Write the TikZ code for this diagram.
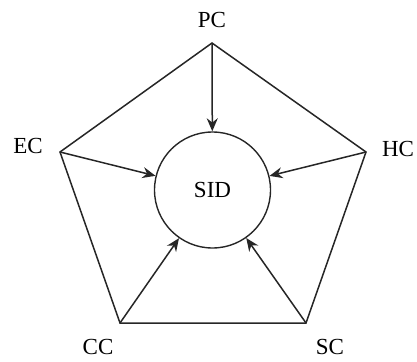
\documentclass[tikz,border=0pt]{standalone}
\usepackage{fontspec}
\setmainfont{Liberation Serif}
\usetikzlibrary{arrows.meta}
\begin{document}
\begin{tikzpicture}[x=1pt,y=-1pt,
  edge/.style={line width=1.5pt, draw=black!85},
  arr/.style={edge,-{Stealth[length=13pt,width=11pt]}},
  lab/.style={font=\fontsize{23}{26}\selectfont, text=black, inner sep=0pt}]
\useasboundingbox (0,0) rectangle (417,361);
\coordinate (pc) at (212,43);
\coordinate (ec) at (60,152);
\coordinate (hc) at (366,152);
\coordinate (cc) at (120,323);
\coordinate (sc) at (306,323);
\node[circle, draw=black!85, line width=1.4pt, minimum size=116pt, inner sep=0pt] (sid) at (212.5,190) {};
\node[lab] (sidl) at (212.5,190) {SID};
\node[lab] (pcl) at (212,20) {PC};
\node[lab] (ecl) at (28,146) {EC};
\node[lab] (hcl) at (398,149) {HC};
\node[lab] (ccl) at (98,347) {CC};
\node[lab] (scl) at (330,347) {SC};
\draw[edge, line join=miter] (pc) -- (hc) -- (sc) -- (cc) -- (ec) -- cycle;
\draw[arr] (pc) -- (sid);
\draw[arr] (ec) -- (sid);
\draw[arr] (hc) -- (sid);
\draw[arr] (cc) -- (sid);
\draw[arr] (sc) -- (sid);
\end{tikzpicture}
\end{document}
